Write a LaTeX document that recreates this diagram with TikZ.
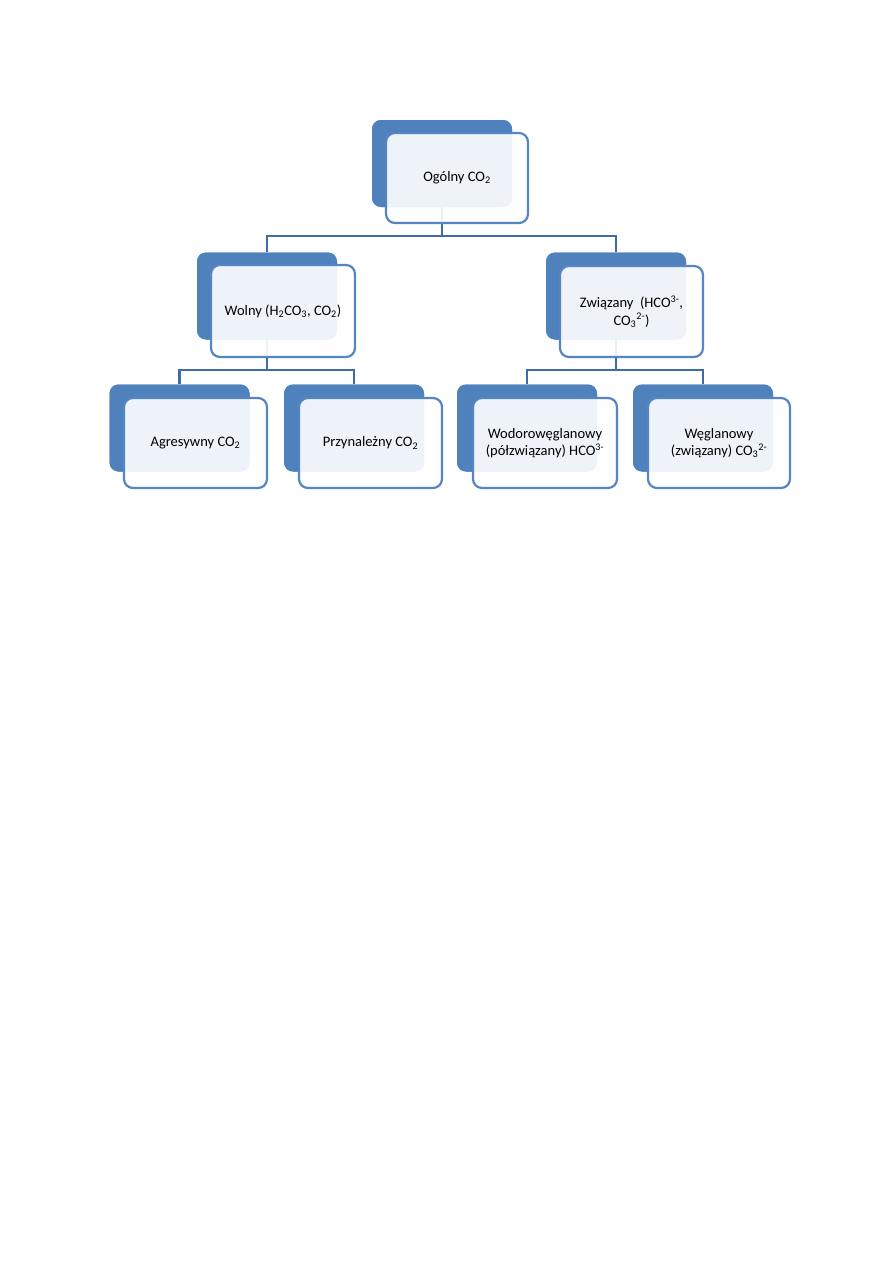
\documentclass[tikz,border=0pt]{standalone}
\usepackage{fontspec}
\setmainfont{Carlito}
\definecolor{darkblue}{HTML}{4F81BD}
\definecolor{lightfill}{HTML}{FEFEFF}
\definecolor{boxline}{HTML}{5585C2}
\definecolor{conn}{HTML}{3F6BA9}
\begin{document}
\begin{tikzpicture}[x=1pt,y=-1pt,
  darkbox/.style={fill=darkblue, draw=none, rounded corners=9pt, minimum width=140pt, minimum height=87pt, inner sep=0pt},
  lightbox/.style={fill=lightfill, fill opacity=0.91, text opacity=1, draw=boxline, draw opacity=1, line width=2.2pt, rounded corners=9pt, minimum width=142pt, minimum height=90pt, inner sep=0pt, align=center, font=\fontsize{14.5}{17.5}\selectfont},
  connector/.style={draw=conn, line width=2.8pt}]
\useasboundingbox (0,0) rectangle (893,1263);
\fill[white] (0,0) rectangle (893,1263);
% dark boxes
\node[darkbox] (d0) at (442,163.5) {};
\node[darkbox] (d1) at (267,296) {};
\node[darkbox] (d2) at (616,296) {};
\node[darkbox] (d3) at (179.5,428) {};
\node[darkbox] (d4) at (354,428) {};
\node[darkbox] (d5) at (527,428) {};
\node[darkbox] (d6) at (703,428) {};
% connectors
\draw[connector] (d0.center) -- (442,236) -| (d1.north);
\draw[connector] (442,236) -| (d2.north);
\draw[connector] (d1.center) -- (267,370) -| (d3.north);
\draw[connector] (267,370) -| (d4.north);
\draw[connector] (d2.center) -- (616,370) -| (d5.north);
\draw[connector] (616,370) -| (d6.north);
% redraw dark boxes over connectors
\node[darkbox] at (d0) {};
\node[darkbox] at (d1) {};
\node[darkbox] at (d2) {};
\node[darkbox] at (d3) {};
\node[darkbox] at (d4) {};
\node[darkbox] at (d5) {};
\node[darkbox] at (d6) {};
% light boxes with text
\node[lightbox] (l0) at (457,178) {Ogólny CO\textsubscript{2}};
\node[lightbox, minimum width=144pt, minimum height=92pt] (l1) at (283,311) {Wolny (H\textsubscript{2}CO\textsubscript{3}, CO\textsubscript{2})};
\node[lightbox, minimum width=143pt, minimum height=91pt] (l2) at (631.5,311.5) {Związany~ (HCO\textsuperscript{3-},\\CO\textsubscript{3}\textsuperscript{2-})};
\node[lightbox, minimum width=143pt] (l3) at (195.5,443) {Agresywny CO\textsubscript{2}};
\node[lightbox, minimum width=143pt] (l4) at (370.5,443) {Przynależny CO\textsubscript{2}};
\node[lightbox, minimum width=144pt] (l5) at (545,443) {Wodorowęglanowy\\(półzwiązany) HCO\textsuperscript{3-}};
\node[lightbox] (l6) at (719,443) {Węglanowy\\(związany) CO\textsubscript{3}\textsuperscript{2-}};
\end{tikzpicture}
\end{document}
